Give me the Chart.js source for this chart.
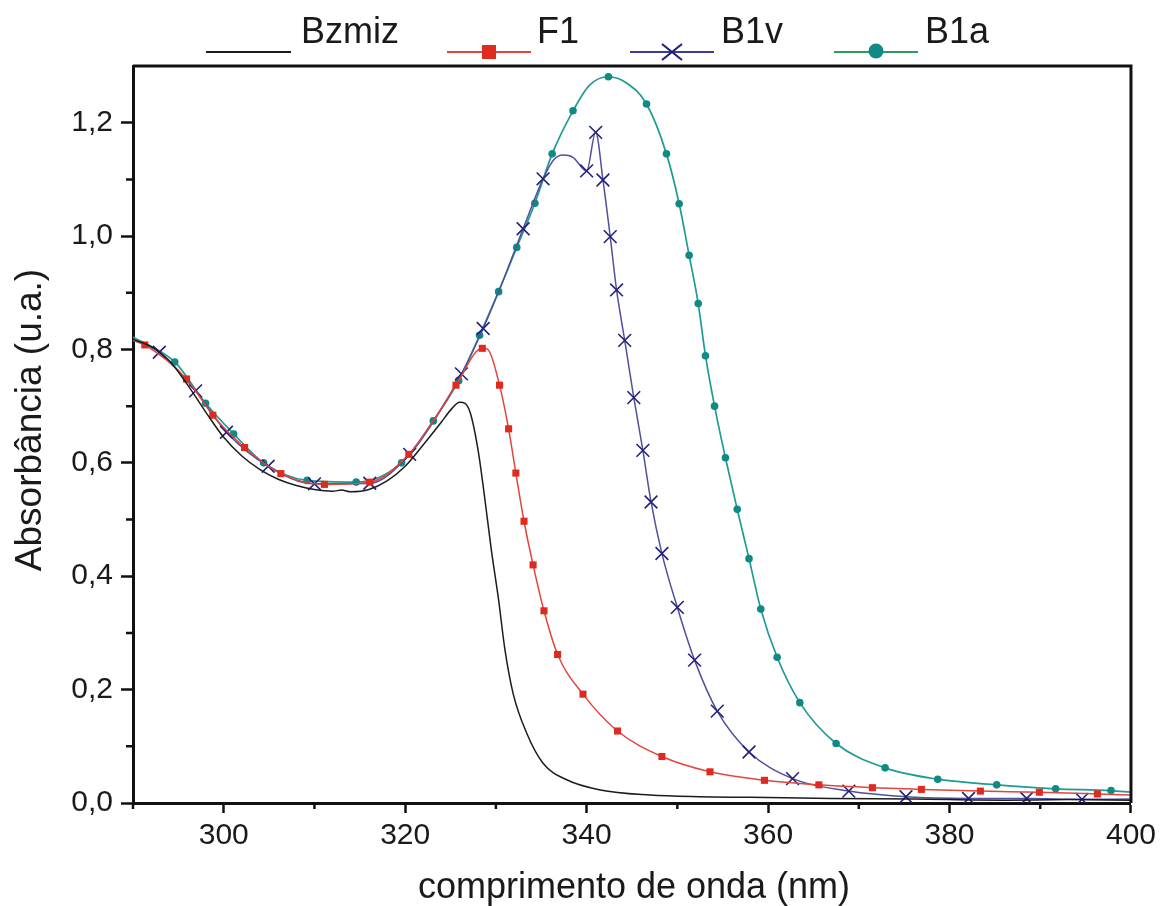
<!DOCTYPE html>
<html>
<head>
<meta charset="utf-8">
<title>Absorbância - Bzmiz, F1, B1v, B1a</title>
<script src="https://cdn.jsdelivr.net/npm/chart.js@4.4.0/dist/chart.umd.min.js"></script>
<style>
    html, body {
        margin: 0;
        padding: 0;
        background-color: #ffffff;
    }
    .chart-box {
        width: 1161px;
        height: 906px;
    }
</style>
</head>
<body>
<div class="chart-box">
    <canvas id="absChart" width="1161" height="906"></canvas>
</div>

<script>
// eixos
const xTicks = [300, 320, 340, 360, 380, 400];
const xMinor = [290, 310, 330, 350, 370, 390];
const yTicks = [0, 0.2, 0.4, 0.6, 0.8, 1.0, 1.2];
const yMinor = [0.1, 0.3, 0.5, 0.7, 0.9, 1.1];
const xTitle = 'comprimento de onda (nm)';
const yTitle = 'Absorbância (u.a.)';
const seriesNames = ['Bzmiz', 'F1', 'B1v', 'B1a'];

// Bzmiz (só linha)
const bzWl  = [290, 292, 294, 296, 298, 300, 302, 304, 306, 308, 310, 312, 313, 314, 316, 318, 320, 322, 324, 325, 326, 326.6, 327.2, 328.1, 328.8, 329.5, 330.3, 331.0, 331.9, 333.4, 335.2, 337.8, 341.5, 347, 352.4, 358, 367, 376, 386, 393, 400];
const bzAbs = [0.818, 0.805, 0.780, 0.738, 0.690, 0.645, 0.612, 0.588, 0.571, 0.560, 0.553, 0.550, 0.552, 0.549, 0.553, 0.568, 0.594, 0.632, 0.672, 0.693, 0.707, 0.705, 0.687, 0.616, 0.534, 0.446, 0.358, 0.270, 0.193, 0.123, 0.070, 0.041, 0.023, 0.014, 0.011, 0.010, 0.008, 0.007, 0.005, 0.006, 0.005];

// F1
const f1Wl  = [290, 291.3, 295.9, 298.8, 302.3, 306.3, 311.1, 316.1, 320.4, 323.0, 325.6, 328.5, 329.1, 330.4, 331.4, 332.2, 333.1, 334.1, 335.3, 336.8, 339.6, 343.4, 348.3, 353.6, 359.6, 365.6, 371.5, 376.9, 383.4, 389.9, 396.3, 400];
const f1Abs = [0.816, 0.808, 0.748, 0.684, 0.627, 0.581, 0.562, 0.566, 0.615, 0.672, 0.737, 0.802, 0.800, 0.737, 0.660, 0.582, 0.497, 0.420, 0.339, 0.262, 0.192, 0.127, 0.082, 0.055, 0.040, 0.032, 0.027, 0.024, 0.021, 0.019, 0.016, 0.014];
const f1NoMark = [0, 9, 12, 31];

// B1v
const b1vWl  = [290, 292.9, 296.9, 300.3, 304.9, 310.0, 316.1, 320.5, 323.2, 326.2, 328.6, 330.8, 333.0, 335.2, 336.4, 337.4, 338.5, 340.0, 341.0, 341.8, 342.6, 343.3, 344.2, 345.2, 346.2, 347.1, 348.3, 350.0, 351.9, 354.4, 357.9, 362.7, 368.9, 375.2, 382.1, 388.5, 394.6, 400];
const b1vAbs = [0.817, 0.795, 0.727, 0.654, 0.594, 0.563, 0.564, 0.615, 0.675, 0.757, 0.837, 0.922, 1.013, 1.101, 1.135, 1.143, 1.139, 1.115, 1.183, 1.099, 0.999, 0.905, 0.816, 0.715, 0.622, 0.531, 0.440, 0.345, 0.252, 0.162, 0.090, 0.043, 0.021, 0.011, 0.008, 0.008, 0.0065, 0.007];
const b1vNoMark = [0, 8, 11, 14, 15, 16, 37];

// B1a
const b1aWl  = [290, 294.6, 298.0, 301.1, 304.4, 309.2, 314.6, 319.6, 323.1, 325.9, 328.2, 330.3, 332.3, 334.3, 336.2, 338.5, 340.3, 342.4, 344.4, 346.6, 348.8, 350.2, 351.3, 352.3, 353.1, 354.1, 355.3, 356.6, 357.9, 359.2, 361.0, 363.5, 367.5, 372.9, 378.7, 385.2, 391.7, 397.8, 400];
const b1aAbs = [0.822, 0.778, 0.705, 0.651, 0.600, 0.569, 0.566, 0.600, 0.674, 0.745, 0.825, 0.902, 0.980, 1.058, 1.145, 1.221, 1.266, 1.281, 1.270, 1.233, 1.145, 1.057, 0.966, 0.881, 0.789, 0.700, 0.609, 0.518, 0.431, 0.342, 0.257, 0.177, 0.105, 0.062, 0.042, 0.032, 0.025, 0.022, 0.019];
const b1aNoMark = [0, 16, 18, 38];

function toPoints(wl, abs) {
    return wl.map((w, i) => ({ x: w, y: abs[i] }));
}

function markRadius(noMark, r) {
    return ctx => noMark.includes(ctx.dataIndex) ? 0 : r;
}

const FONT = '"Liberation Sans", Arial, Helvetica, sans-serif';

const legendItems = [
    { text: seriesNames[0], line: '#1c1c1c', mark: null,     color: null,      x0: 206, x1: 291, tx: 301 },
    { text: seriesNames[1], line: '#e2453b', mark: 'square', color: '#df2a1f', x0: 447, x1: 531, tx: 537 },
    { text: seriesNames[2], line: '#3c3c94', mark: 'cross',  color: '#22227a', x0: 630, x1: 714, tx: 721 },
    { text: seriesNames[3], line: '#2e9b5c', mark: 'circle', color: '#0f8a84', x0: 834, x1: 918, tx: 925 }
];

// moldura, ticks menores, títulos e legenda
const decorPlugin = {
    id: 'decor',
    afterDraw(chart) {
        const ctx = chart.ctx;
        const area = chart.chartArea;
        const xs = chart.scales.x;
        const ys = chart.scales.y;
        ctx.save();

        ctx.strokeStyle = '#111';
        ctx.lineWidth = 3;
        ctx.beginPath();
        ctx.moveTo(area.left, area.top);
        ctx.lineTo(area.right, area.top);
        ctx.lineTo(area.right, area.bottom);
        ctx.stroke();

        ctx.lineWidth = 2.5;
        ctx.beginPath();
        xMinor.forEach(v => {
            const px = xs.getPixelForValue(v);
            ctx.moveTo(px, area.bottom);
            ctx.lineTo(px, area.bottom + 6);
        });
        yMinor.forEach(v => {
            const py = ys.getPixelForValue(v);
            ctx.moveTo(area.left, py);
            ctx.lineTo(area.left - 7, py);
        });
        ctx.stroke();

        ctx.fillStyle = '#1a1a1a';
        ctx.font = '36px ' + FONT;
        ctx.textAlign = 'center';
        ctx.textBaseline = 'alphabetic';
        ctx.fillText(xTitle, 634, 898);

        ctx.font = '37px ' + FONT;
        ctx.save();
        ctx.translate(41, 420);
        ctx.rotate(-Math.PI / 2);
        ctx.fillText(yTitle, 0, 0);
        ctx.restore();

        // legenda
        const ly = 52;
        ctx.font = '36px ' + FONT;
        ctx.textAlign = 'left';
        legendItems.forEach(it => {
            ctx.strokeStyle = it.line;
            ctx.lineWidth = 2.2;
            ctx.beginPath();
            ctx.moveTo(it.x0, ly);
            ctx.lineTo(it.x1, ly);
            ctx.stroke();
            const cx = (it.x0 + it.x1) / 2;
            if (it.mark === 'square') {
                ctx.fillStyle = it.color;
                ctx.fillRect(cx - 7, ly - 7, 14, 14);
            } else if (it.mark === 'circle') {
                ctx.fillStyle = it.color;
                ctx.beginPath();
                ctx.arc(cx, ly - 1, 7.5, 0, Math.PI * 2);
                ctx.fill();
            } else if (it.mark === 'cross') {
                ctx.strokeStyle = it.color;
                ctx.lineWidth = 2.2;
                ctx.beginPath();
                ctx.moveTo(cx - 10, ly - 8);
                ctx.lineTo(cx + 10, ly + 8);
                ctx.moveTo(cx - 10, ly + 8);
                ctx.lineTo(cx + 10, ly - 8);
                ctx.stroke();
            }
            ctx.fillStyle = '#1a1a1a';
            ctx.fillText(it.text, it.tx, 43);
        });

        ctx.restore();
    }
};

const config = {
    type: 'line',
    data: {
        datasets: [
            {
                label: seriesNames[0],
                data: toPoints(bzWl, bzAbs),
                borderColor: '#1c1c1c',
                borderWidth: 1.5,
                pointRadius: 0,
                cubicInterpolationMode: 'monotone',
                order: 1
            },
            {
                label: seriesNames[1],
                data: toPoints(f1Wl, f1Abs),
                borderColor: '#e2453b',
                borderWidth: 1.5,
                pointStyle: 'rect',
                pointRadius: markRadius(f1NoMark, 5),
                pointBackgroundColor: '#df2a1f',
                pointBorderColor: '#df2a1f',
                pointBorderWidth: 0,
                cubicInterpolationMode: 'monotone',
                order: 2
            },
            {
                label: seriesNames[2],
                data: toPoints(b1vWl, b1vAbs),
                borderColor: '#50509c',
                borderWidth: 1.5,
                pointStyle: 'crossRot',
                pointRadius: markRadius(b1vNoMark, 9),
                pointBorderColor: '#22227a',
                pointBorderWidth: 1.6,
                cubicInterpolationMode: 'monotone',
                order: 3
            },
            {
                label: seriesNames[3],
                data: toPoints(b1aWl, b1aAbs),
                borderColor: '#1f9b94',
                borderWidth: 1.7,
                pointStyle: 'circle',
                pointRadius: markRadius(b1aNoMark, 3.8),
                pointBackgroundColor: '#0f8a84',
                pointBorderColor: '#0f8a84',
                pointBorderWidth: 0,
                cubicInterpolationMode: 'monotone',
                order: 4
            }
        ]
    },
    options: {
        responsive: false,
        animation: false,
        devicePixelRatio: 1,
        layout: {
            padding: { top: 66, right: 29, bottom: 0, left: 0 }
        },
        plugins: {
            legend: { display: false },
            tooltip: { enabled: false }
        },
        scales: {
            x: {
                type: 'linear',
                min: 290,
                max: 400,
                afterBuildTicks: scale => { scale.ticks = xTicks.map(v => ({ value: v })); },
                afterFit: scale => { scale.height = 103; },
                ticks: {
                    color: '#1a1a1a',
                    font: { family: FONT, size: 30 },
                    padding: 5,
                    maxRotation: 0,
                    autoSkip: false,
                    callback: v => String(v)
                },
                grid: {
                    drawOnChartArea: false,
                    tickLength: 10,
                    tickWidth: 2.5,
                    tickColor: '#111'
                },
                border: { display: true, color: '#111', width: 3 }
            },
            y: {
                type: 'linear',
                min: 0,
                max: 1.3,
                afterBuildTicks: scale => { scale.ticks = yTicks.map(v => ({ value: v })); },
                afterFit: scale => { scale.width = 133; },
                ticks: {
                    color: '#1a1a1a',
                    font: { family: FONT, size: 30 },
                    padding: 8,
                    autoSkip: false,
                    callback: v => v.toFixed(1).replace('.', ',')
                },
                grid: {
                    drawOnChartArea: false,
                    tickLength: 12,
                    tickWidth: 2.5,
                    tickColor: '#111'
                },
                border: { display: true, color: '#111', width: 3 }
            }
        }
    },
    plugins: [decorPlugin]
};

new Chart(document.getElementById('absChart').getContext('2d'), config);
</script>
</body>
</html>
